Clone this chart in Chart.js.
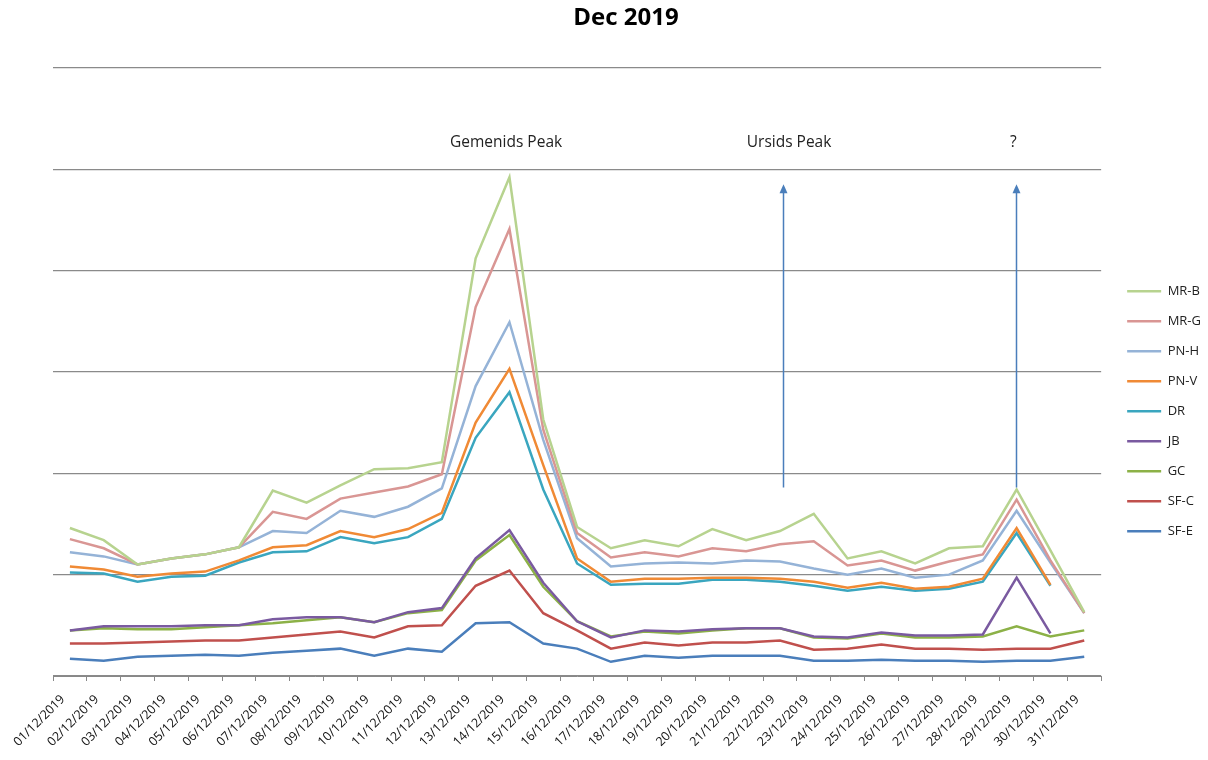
<!DOCTYPE html>
<html>
<head>
<meta charset="utf-8">
<script src="https://cdn.jsdelivr.net/npm/chart.js@4/dist/chart.umd.min.js"></script>
<style>
  html, body { margin: 0; padding: 0; background: #fff; }
  #wrap { width: 1208px; height: 760px; }
</style>
</head>
<body>
<div id="wrap"><canvas id="meteorChart" width="1208" height="760"></canvas></div>
<script>
// Dec 2019 meteor counts per station
const days = [
    '01/12/2019', '02/12/2019', '03/12/2019', '04/12/2019', '05/12/2019', '06/12/2019', '07/12/2019', '08/12/2019',
    '09/12/2019', '10/12/2019', '11/12/2019', '12/12/2019', '13/12/2019', '14/12/2019', '15/12/2019', '16/12/2019',
    '17/12/2019', '18/12/2019', '19/12/2019', '20/12/2019', '21/12/2019', '22/12/2019', '23/12/2019', '24/12/2019',
    '25/12/2019', '26/12/2019', '27/12/2019', '28/12/2019', '29/12/2019', '30/12/2019', '31/12/2019'
];

const mrB  = [146, 134, 110, 116, 120, 127, 183, 171, 188, 204, 205, 211, 412, 492, 253, 147, 126, 134, 128, 145, 134, 143, 160, 116, 123, 111, 126, 128, 184, 124, 63];
const mrG  = [135, 126, 110, 116, 120, 127, 162, 155, 175, 181, 187, 199, 364, 441, 243, 141, 117, 122, 118, 126, 123, 130, 133, 109, 114, 104, 113, 120, 174, 114, 62];
const pnH  = [122, 118, 110, 116, 120, 127, 143, 141, 163, 157, 167, 185, 286, 349, 233, 136, 108, 111, 112, 111, 114, 113, 106, 100, 106, 97, 100, 114, 163, 112, 62];
const pnV  = [108, 105, 98, 101, 103, 114, 127, 129, 143, 137, 145, 161, 250, 303, 208, 116, 93, 96, 96, 97, 97, 96, 93, 87, 92, 86, 88, 96, 146, 90, null];
const dr   = [102, 101, 93, 98, 99, 112, 122, 123, 137, 131, 137, 155, 235, 280, 184, 111, 90, 91, 91, 95, 95, 93, 89, 84, 88, 84, 86, 93, 141, 89, null];
const jb   = [45, 49, 49, 49, 50, 50, 56, 58, 58, 53, 63, 67, 116, 144, 92, 54, 38, 45, 44, 46, 47, 47, 39, 38, 43, 40, 40, 41, 97, 42, null];
const gc   = [45, 47, 46, 46, 48, 50, 52, 55, 58, 53, 62, 65, 114, 139, 88, 54, 39, 44, 42, 45, 47, 47, 38, 37, 42, 38, 38, 39, 49, 39, 45];
const sfC  = [32, 32, 33, 34, 35, 35, 38, 41, 44, 38, 49, 50, 89, 104, 62, 45, 27, 33, 30, 33, 33, 35, 26, 27, 31, 27, 27, 26, 27, 27, 35];
const sfE  = [17, 15, 19, 20, 21, 20, 23, 25, 27, 20, 27, 24, 52, 53, 32, 27, 14, 20, 18, 20, 20, 20, 15, 15, 16, 15, 15, 14, 15, 15, 19];

const seriesNames  = ['MR-B', 'MR-G', 'PN-H', 'PN-V', 'DR', 'JB', 'GC', 'SF-C', 'SF-E'];
const seriesValues = [mrB, mrG, pnH, pnV, dr, jb, gc, sfC, sfE];
const seriesColors = ['#b7d38f', '#d99694', '#95b3d7', '#f08a35', '#3aa6bf', '#7a5aa0', '#8cb147', '#c0504d', '#4a7ebb'];

// peak notes: label, category position, value height
const noteLabels = ['Gemenids Peak', 'Ursids Peak', '?'];
const notePos    = [12.9, 21.27, 27.9];
const noteValue  = 526;
// arrows: category position, from value, to value
const arrowPos  = [21.1, 27.98];
const arrowFrom = [186, 186];
const arrowTo   = [485, 485];

const FONT = '"Open Sans", "Liberation Sans", sans-serif';

const peakNotes = {
    id: 'peakNotes',
    afterDatasetsDraw(chart) {
        const ctx = chart.ctx;
        const x = chart.scales.x;
        const y = chart.scales.y;
        ctx.save();
        ctx.fillStyle = '#222';
        ctx.font = '15.5px ' + FONT;
        ctx.textAlign = 'center';
        ctx.textBaseline = 'middle';
        noteLabels.forEach((txt, i) => {
            ctx.fillText(txt, x.getPixelForValue(notePos[i]), y.getPixelForValue(noteValue));
        });

        ctx.strokeStyle = '#4a7ebb';
        ctx.fillStyle = '#4a7ebb';
        ctx.lineWidth = 1.5;
        arrowPos.forEach((p, i) => {
            const px = Math.round(x.getPixelForValue(p)) + 0.5;
            const y0 = y.getPixelForValue(arrowFrom[i]);
            const y1 = y.getPixelForValue(arrowTo[i]);
            ctx.beginPath();
            ctx.moveTo(px, y0);
            ctx.lineTo(px, y1 + 6);
            ctx.stroke();
            ctx.beginPath();
            ctx.moveTo(px, y1);
            ctx.lineTo(px - 4, y1 + 9);
            ctx.lineTo(px + 4, y1 + 9);
            ctx.closePath();
            ctx.fill();
        });
        ctx.restore();
    }
};

const ctx = document.getElementById('meteorChart').getContext('2d');
new Chart(ctx, {
    type: 'line',
    data: {
        labels: days,
        datasets: seriesNames.map((name, i) => ({
            label: name,
            data: seriesValues[i],
            borderColor: seriesColors[i],
            backgroundColor: seriesColors[i],
            borderWidth: 2.5,
            pointRadius: 0,
            pointHoverRadius: 0,
            pointStyle: 'line',
            tension: 0,
            fill: false
        }))
    },
    options: {
        responsive: false,
        animation: false,
        layout: { padding: { left: 41, right: -3, top: 0, bottom: 0 } },
        plugins: {
            title: {
                display: true,
                text: 'Dec 2019',
                color: '#000',
                font: { family: FONT, size: 24, weight: 'bold' },
                padding: { top: 4, bottom: 35 }
            },
            legend: {
                position: 'right',
                title: { display: true, text: '', padding: 24, font: { size: 12 } },
                labels: {
                    usePointStyle: true,
                    pointStyleWidth: 34,
                    padding: 17,
                    color: '#222',
                    font: { family: FONT, size: 13 }
                }
            },
            tooltip: { enabled: false }
        },
        scales: {
            x: {
                offset: true,
                grid: { offset: true, drawOnChartArea: false, drawTicks: true, tickLength: 5, color: '#888' },
                border: { color: '#888' },
                ticks: {
                    autoSkip: false,
                    maxRotation: 45,
                    minRotation: 45,
                    padding: 11,
                    labelOffset: -7,
                    color: '#111',
                    font: { family: FONT, size: 12.5 }
                },
                afterFit(scale) { scale.height = 84; }
            },
            y: {
                min: 0,
                max: 600,
                ticks: { display: false, stepSize: 100 },
                grid: { color: '#8a8a8a', lineWidth: 1.3, drawTicks: false },
                border: { display: false },
                afterFit(scale) { scale.width = 12; }
            },
            gap: {
                type: 'linear',
                position: 'right',
                ticks: { display: false },
                grid: { display: false },
                border: { display: false },
                afterFit(scale) { scale.width = 9; }
            }
        }
    },
    plugins: [peakNotes]
});
</script>
</body>
</html>
